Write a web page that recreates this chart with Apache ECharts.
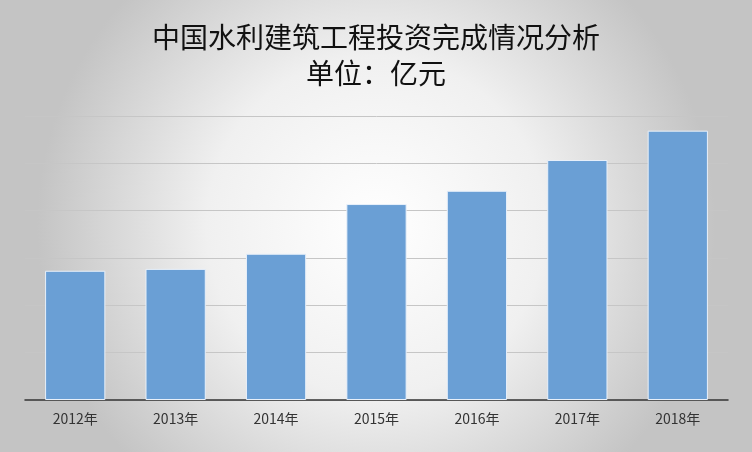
<!DOCTYPE html>
<html><head><meta charset="utf-8">
<script src="https://cdn.jsdelivr.net/npm/echarts@6/dist/echarts.min.js"></script>
<style>html,body{margin:0;padding:0;}#c{width:752px;height:452px;}</style>
</head><body><div id="c"></div>
<script>
const categories = ['2012年','2013年','2014年','2015年','2016年','2017年','2018年'];
const values = [2730, 2770, 3090, 4140, 4420, 5070, 5690];
const chart = echarts.init(document.getElementById('c'));
chart.setOption({
  backgroundColor: {type:'radial', x:0.5, y:0.5, r:0.75, colorStops:[{offset:0,color:'#ffffff'},{offset:0.5,color:'#f0f0f0'},{offset:1,color:'#c4c4c4'}]},
  title: {text:'中国水利建筑工程投资完成情况分析\n单位：亿元', left:'center', top:14,
    textStyle:{fontFamily:'Noto Sans CJK SC', fontSize:28, fontWeight:'normal', color:'#111', lineHeight:36}},
  grid: {left:25, right:24, top:116, bottom:52},
  xAxis: {type:'category', data:categories,
    axisLine:{lineStyle:{color:'#333', width:1.5}}, axisTick:{show:false},
    axisLabel:{fontSize:14, color:'#333', margin:12, fontFamily:'Noto Sans CJK SC'}},
  yAxis: {type:'value', min:0, max:6000, interval:1000, axisLabel:{show:false},
    axisLine:{show:false}, axisTick:{show:false},
    splitLine:{lineStyle:{color:'#c6c6c6', width:1}}},
  series: [{type:'bar', data:values, barWidth:'60%',
    itemStyle:{color:'#6a9fd5', borderColor:'#e8f0fa', borderWidth:1}}]
});
</script></body></html>
